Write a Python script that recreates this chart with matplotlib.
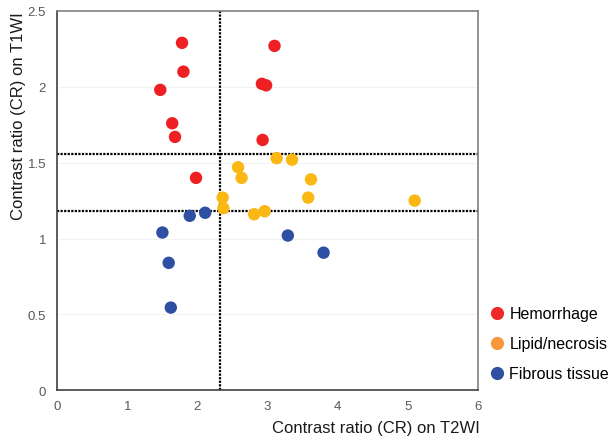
import matplotlib
matplotlib.use("Agg")
from matplotlib import pyplot as plt
from matplotlib.lines import Line2D

plt.rcParams['font.family'] = ['Liberation Sans', 'DejaVu Sans']

# Hemorrhage
hem_t2 = [1.78, 1.80, 1.47, 1.64, 1.68, 1.98, 3.10, 2.92, 2.98, 2.93]
hem_t1 = [2.29, 2.10, 1.98, 1.76, 1.67, 1.40, 2.27, 2.02, 2.01, 1.65]

# Lipid / necrosis
lip_t2 = [3.13, 3.35, 2.58, 2.63, 3.62, 2.36, 3.58, 2.37, 2.81, 2.96, 5.10]
lip_t1 = [1.53, 1.52, 1.47, 1.40, 1.39, 1.27, 1.27, 1.20, 1.16, 1.18, 1.25]

# Fibrous tissue
fib_t2 = [1.50, 1.89, 2.11, 1.59, 1.62, 3.29, 3.80]
fib_t1 = [1.04, 1.15, 1.17, 0.84, 0.545, 1.02, 0.907]

cutoff_t2 = 2.32
cutoff_t1 = [1.56, 1.18]

labels = ["Hemorrhage", "Lipid/necrosis", "Fibrous tissue"]
point_colors = ["#ee2024", "#fbb714", "#2f4fa2"]
legend_colors = ["#ec2a2a", "#f7993b", "#2f4fa2"]

fig = plt.figure(figsize=(6.12, 4.39), dpi=100)
ax = fig.add_axes([0.0936, 0.1087, 0.687, 0.864])

for y in [0.5, 1, 1.5, 2]:
    ax.axhline(y, color="#f2f2f2", lw=0.8, zorder=0)

ax.axvline(cutoff_t2, color="black", ls=(0, (1, 0.6)), lw=1.6, zorder=1)
for c in cutoff_t1:
    ax.axhline(c, color="black", ls=(0, (1, 0.6)), lw=1.6, zorder=1)

for xs, ys, col in zip([hem_t2, lip_t2, fib_t2], [hem_t1, lip_t1, fib_t1], point_colors):
    ax.scatter(xs, ys, s=80, color=col, edgecolors="none", zorder=3)

ax.set_xlim(0, 6)
ax.set_ylim(0, 2.5)
ax.set_xticks(range(7))
ax.set_yticks([0, 0.5, 1, 1.5, 2, 2.5])
ax.set_yticklabels(["0", "0.5", "1", "1.5", "2", "2.5"])
ax.tick_params(length=0, labelsize=9.5, labelcolor="#595959")
ax.tick_params(axis="x", pad=7)
ax.tick_params(axis="y", pad=8)

for side in ["left", "bottom"]:
    ax.spines[side].set_color("#404040")
    ax.spines[side].set_linewidth(1.2)
for side in ["top", "right"]:
    ax.spines[side].set_color("#808080")
    ax.spines[side].set_linewidth(1.2)

# x label flush with the right end of the axes
ax.text(1.005, -0.078, "Contrast ratio (CR) on T2WI", transform=ax.transAxes,
        ha="right", va="top", fontsize=12, color="#1a1a1a")

# y label sits against the top of the axes, as in the original
ax.text(-0.093, 1.0, "Contrast ratio (CR) on T1WI", transform=ax.transAxes,
        rotation=90, ha="center", va="top", fontsize=12, color="#1a1a1a")

handles = [Line2D([], [], marker="o", ls="none", markersize=9.5, color=c, markeredgewidth=0)
           for c in legend_colors]
fig.legend(handles, labels, loc="upper left", bbox_to_anchor=(0.788, 0.315),
           frameon=False, fontsize=11.5, handletextpad=0.3, labelspacing=0.95,
           handlelength=1.0, borderaxespad=0)

fig.savefig("out.png", dpi=100)
